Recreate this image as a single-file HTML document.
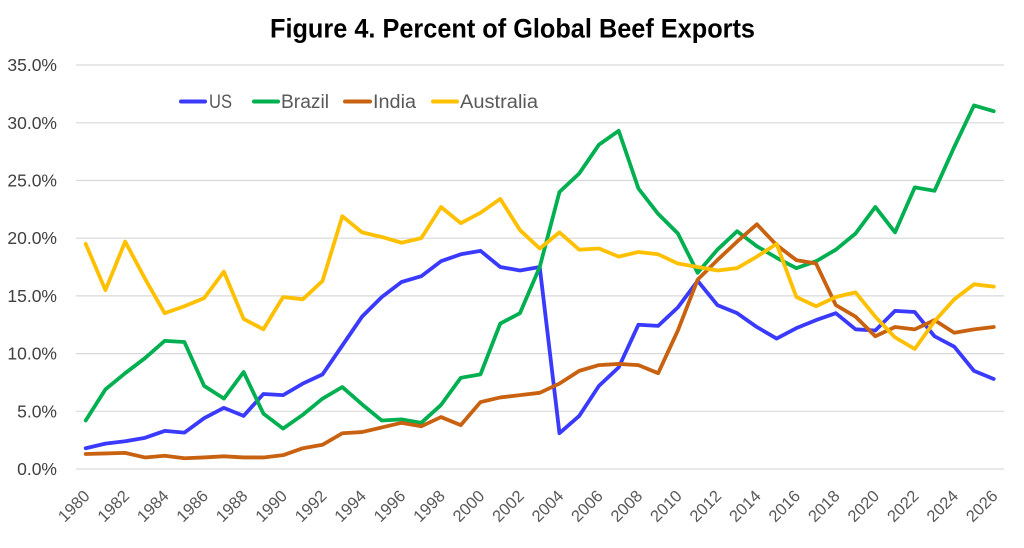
<!DOCTYPE html>
<html>
<head>
<meta charset="utf-8">
<style>
  html, body { margin: 0; padding: 0; background: #ffffff; }
  svg { display: block; font-family: "Liberation Sans", Arial, sans-serif; }
</style>
</head>
<body>
<svg width="1024" height="548" viewBox="0 0 1024 548" xmlns="http://www.w3.org/2000/svg">
  <rect x="0" y="0" width="1024" height="548" fill="#ffffff"/>

  <!-- Title -->
  <text x="512.5" y="37.5" text-anchor="middle" font-size="27" font-weight="bold" fill="#000000" textLength="485" lengthAdjust="spacingAndGlyphs">Figure 4. Percent of Global Beef Exports</text>

  <!-- Gridlines -->
  <g stroke="#d9d9d9" stroke-width="1.2">
    <line x1="76" y1="469" x2="1004" y2="469"/>
    <line x1="76" y1="411.3" x2="1004" y2="411.3"/>
    <line x1="76" y1="353.6" x2="1004" y2="353.6"/>
    <line x1="76" y1="295.9" x2="1004" y2="295.9"/>
    <line x1="76" y1="238.2" x2="1004" y2="238.2"/>
    <line x1="76" y1="180.5" x2="1004" y2="180.5"/>
    <line x1="76" y1="122.8" x2="1004" y2="122.8"/>
    <line x1="76" y1="65" x2="1004" y2="65"/>
  </g>

  <!-- Y axis labels -->
  <g font-size="17.5" fill="#404040" text-anchor="end">
    <text x="57" y="475">0.0%</text>
    <text x="57" y="417.3">5.0%</text>
    <text x="57" y="359.6">10.0%</text>
    <text x="57" y="301.9">15.0%</text>
    <text x="57" y="244.2">20.0%</text>
    <text x="57" y="186.5">25.0%</text>
    <text x="57" y="128.8">30.0%</text>
    <text x="57" y="71">35.0%</text>
  </g>

  <!-- X axis labels -->
  <g font-size="16.5" fill="#595959" text-anchor="end">
    <text x="90.7" y="497" transform="rotate(-45 90.7 497)">1980</text>
    <text x="130.2" y="497" transform="rotate(-45 130.2 497)">1982</text>
    <text x="169.7" y="497" transform="rotate(-45 169.7 497)">1984</text>
    <text x="209.1" y="497" transform="rotate(-45 209.1 497)">1986</text>
    <text x="248.6" y="497" transform="rotate(-45 248.6 497)">1988</text>
    <text x="288.1" y="497" transform="rotate(-45 288.1 497)">1990</text>
    <text x="327.6" y="497" transform="rotate(-45 327.6 497)">1992</text>
    <text x="367.1" y="497" transform="rotate(-45 367.1 497)">1994</text>
    <text x="406.5" y="497" transform="rotate(-45 406.5 497)">1996</text>
    <text x="446.0" y="497" transform="rotate(-45 446.0 497)">1998</text>
    <text x="485.5" y="497" transform="rotate(-45 485.5 497)">2000</text>
    <text x="525.0" y="497" transform="rotate(-45 525.0 497)">2002</text>
    <text x="564.5" y="497" transform="rotate(-45 564.5 497)">2004</text>
    <text x="603.9" y="497" transform="rotate(-45 603.9 497)">2006</text>
    <text x="643.4" y="497" transform="rotate(-45 643.4 497)">2008</text>
    <text x="682.9" y="497" transform="rotate(-45 682.9 497)">2010</text>
    <text x="722.4" y="497" transform="rotate(-45 722.4 497)">2012</text>
    <text x="761.9" y="497" transform="rotate(-45 761.9 497)">2014</text>
    <text x="801.3" y="497" transform="rotate(-45 801.3 497)">2016</text>
    <text x="840.8" y="497" transform="rotate(-45 840.8 497)">2018</text>
    <text x="880.3" y="497" transform="rotate(-45 880.3 497)">2020</text>
    <text x="919.8" y="497" transform="rotate(-45 919.8 497)">2022</text>
    <text x="959.3" y="497" transform="rotate(-45 959.3 497)">2024</text>
    <text x="998.7" y="497" transform="rotate(-45 998.7 497)">2026</text>
  </g>

  <!-- Series -->
  <g transform="translate(85.7 469) scale(19.74 -11.543)" fill="none" stroke-linejoin="round" stroke-linecap="round">
    <!-- US -->
    <polyline vector-effect="non-scaling-stroke" stroke="#3a3aff" stroke-width="3.8"
      points="0,1.8 1,2.2 2,2.4 3,2.7 4,3.3 5,3.15 6,4.4 7,5.3 8,4.6 9,6.5 10,6.4 11,7.4 12,8.2 13,10.7 14,13.2 15,14.9 16,16.2 17,16.7 18,18.0 19,18.6 20,18.9 21,17.5 22,17.2 23,17.5 24,3.1 25,4.6 26,7.2 27,8.8 28,12.5 29,12.4 30,14.0 31,16.3 32,14.2 33,13.5 34,12.3 35,11.3 36,12.2 37,12.9 38,13.5 39,12.1 40,12.0 41,13.7 42,13.6 43,11.5 44,10.6 45,8.5 46,7.8"/>
    <!-- Brazil -->
    <polyline vector-effect="non-scaling-stroke" stroke="#00b050" stroke-width="3.8"
      points="0,4.2 1,6.9 2,8.3 3,9.6 4,11.1 5,11.0 6,7.2 7,6.1 8,8.4 9,4.8 10,3.5 11,4.7 12,6.1 13,7.1 14,5.6 15,4.2 16,4.3 17,4.0 18,5.55 19,7.9 20,8.2 21,12.6 22,13.5 23,17.5 24,24.0 25,25.6 26,28.1 27,29.3 28,24.3 29,22.1 30,20.4 31,17.0 32,19.0 33,20.6 34,19.3 35,18.3 36,17.4 37,18.0 38,19.0 39,20.4 40,22.7 41,20.5 42,24.4 43,24.1 44,27.9 45,31.5 46,31.0"/>
    <!-- India -->
    <polyline vector-effect="non-scaling-stroke" stroke="#c96210" stroke-width="3.8"
      points="0,1.3 1,1.35 2,1.4 3,1.0 4,1.15 5,0.93 6,1.0 7,1.1 8,1.0 9,1.0 10,1.2 11,1.8 12,2.1 13,3.1 14,3.2 15,3.6 16,4.0 17,3.7 18,4.5 19,3.8 20,5.8 21,6.2 22,6.4 23,6.6 24,7.4 25,8.5 26,9.0 27,9.1 28,9.0 29,8.3 30,12.0 31,16.4 32,18.1 33,19.7 34,21.2 35,19.4 36,18.1 37,17.8 38,14.2 39,13.2 40,11.5 41,12.3 42,12.1 43,12.9 44,11.8 45,12.1 46,12.3"/>
    <!-- Australia -->
    <polyline vector-effect="non-scaling-stroke" stroke="#ffc000" stroke-width="3.8"
      points="0,19.5 1,15.5 2,19.7 3,16.5 4,13.5 5,14.1 6,14.8 7,17.1 8,13.0 9,12.1 10,14.9 11,14.7 12,16.3 13,21.9 14,20.5 15,20.1 16,19.6 17,20.0 18,22.7 19,21.3 20,22.2 21,23.4 22,20.7 23,19.1 24,20.5 25,19.0 26,19.1 27,18.4 28,18.8 29,18.6 30,17.8 31,17.5 32,17.2 33,17.4 34,18.4 35,19.5 36,14.9 37,14.1 38,14.9 39,15.3 40,13.2 41,11.4 42,10.4 43,12.8 44,14.7 45,16.0 46,15.8"/>
  </g>

  <!-- Legend -->
  <g stroke-width="4" stroke-linecap="round">
    <line x1="181" y1="101.5" x2="205" y2="101.5" stroke="#3a3aff"/>
    <line x1="254" y1="101.5" x2="278" y2="101.5" stroke="#00b050"/>
    <line x1="345" y1="101.5" x2="370" y2="101.5" stroke="#c96210"/>
    <line x1="433" y1="101.5" x2="457" y2="101.5" stroke="#ffc000"/>
  </g>
  <g font-size="19" fill="#595959">
    <text x="209" y="108" textLength="23" lengthAdjust="spacingAndGlyphs">US</text>
    <text x="281" y="108" textLength="48" lengthAdjust="spacingAndGlyphs">Brazil</text>
    <text x="373" y="108" textLength="43" lengthAdjust="spacingAndGlyphs">India</text>
    <text x="460" y="108" textLength="78" lengthAdjust="spacingAndGlyphs">Australia</text>
  </g>
</svg>
</body>
</html>
